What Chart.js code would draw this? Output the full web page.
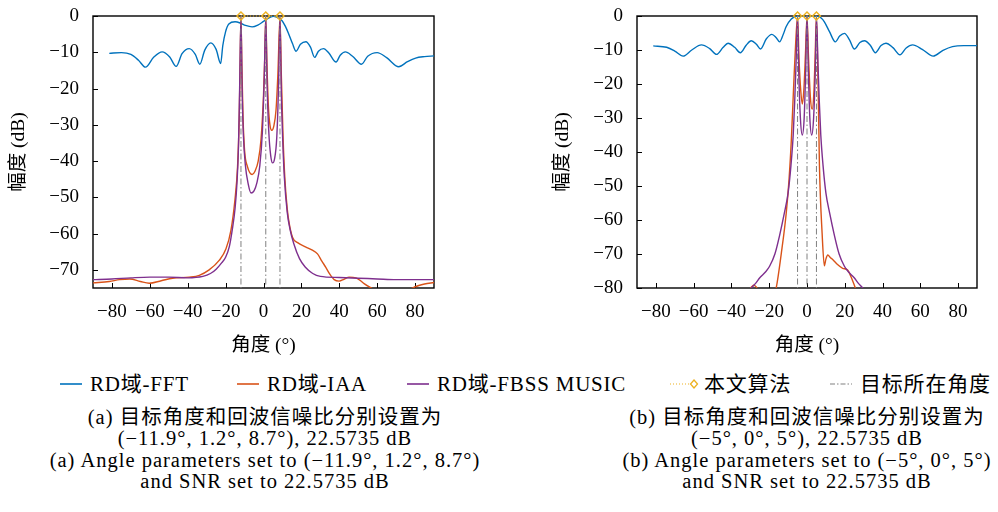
<!DOCTYPE html>
<html>
<head>
<meta charset="utf-8">
<script src="https://cdn.jsdelivr.net/npm/chart.js@4.4.1/dist/chart.umd.min.js"></script>
<style>
  body { margin: 0; background: #fff; }
  #wrap { position: relative; width: 998px; height: 512px; font-family: "Liberation Serif", "Noto Sans CJK SC", serif; color: #000; }
  canvas { position: absolute; top: 0; }
  .leg { position: absolute; top: 372px; height: 24px; font-size: 21px; line-height: 24px; letter-spacing: 0.8px; white-space: nowrap; }
  .leg svg { position: absolute; top: 1px; }
  .cap { position: absolute; top: 407px; width: 500px; text-align: center; font-size: 20.5px; line-height: 21.4px; letter-spacing: 1px; white-space: nowrap; }
</style>
</head>
<body>
<div id="wrap">
  <canvas id="chartA" width="470" height="362" style="left:0"></canvas>
  <canvas id="chartB" width="454" height="362" style="left:544px"></canvas>
  <div id="legend"></div>
  <div class="cap" style="left:15px">(a) 目标角度和回波信噪比分别设置为<br>(−11.9°, 1.2°, 8.7°), 22.5735 dB<br>(a) Angle parameters set to (−11.9°, 1.2°, 8.7°)<br>and SNR set to 22.5735 dB</div>
  <div class="cap" style="left:557px">(b) 目标角度和回波信噪比分别设置为<br>(−5°, 0°, 5°), 22.5735 dB<br>(b) Angle parameters set to (−5°, 0°, 5°)<br>and SNR set to 22.5735 dB</div>
</div>
<script>
// tick labels
const angleTicks = [-80, -60, -40, -20, 0, 20, 40, 60, 80];
const dbTicksA = [0, -10, -20, -30, -40, -50, -60, -70];
const dbTicksB = [0, -10, -20, -30, -40, -50, -60, -70, -80];

// target angles (deg)
const targetsA = [-11.9, 1.2, 8.7];
const targetsB = [-5, 0, 5];

// (a) spectra, [angle deg, dB]
const fftA = [[-81.4,-10.3],[-75,-10.1],[-70,-10.6],[-66,-12.2],[-62.3,-14.1],[-58,-11.4],[-53.5,-9.9],[-49.5,-11.3],[-46.1,-13.9],[-43,-10.4],[-39.2,-9.0],[-36,-10.6],[-33.6,-13.3],[-31,-9.4],[-27.8,-7.4],[-25,-9.2],[-22.6,-13.1],[-21.5,-8.2],[-20,-4.3],[-18.3,-2.2],[-15,-1.6],[-12,-2.0],[-9.5,-2.6],[-6,-3.0],[-3,-2.5],[0,-1.5],[3,-0.5],[5.3,-0.1],[8,-0.6],[9.8,-1.3],[11.5,-2.8],[13.2,-4.8],[15.3,-7.6],[17.2,-9.7],[19.5,-7.8],[22.4,-7.1],[24.8,-8.6],[27,-11.4],[29,-9.7],[31.7,-9.0],[34.5,-10.2],[38.3,-12.7],[40.5,-10.8],[43.2,-9.9],[47,-11.1],[51.7,-13.3],[55,-11.1],[60,-10.1],[65,-11.5],[71.4,-14.0],[76,-12.6],[80.3,-11.6],[85,-11.2],[90,-11.0]];
const iaaA = [[-90,-73.6],[-81.4,-73.2],[-76,-72.7],[-70.6,-72.5],[-65,-73.2],[-60.3,-73.7],[-54,-73.0],[-48,-72.3],[-39.2,-72.0],[-33.9,-71.5],[-28.7,-70.0],[-23.4,-67.4],[-19.8,-64.2],[-17.2,-59.1],[-15.1,-50.8],[-13.7,-41.6],[-12.8,-27.8],[-12.3,-12],[-11.9,-0.3],[-11.4,-14],[-10.8,-28],[-10,-37],[-8.5,-41.5],[-6,-43.7],[-4.5,-42.8],[-2.8,-40],[-1.3,-34],[0,-22],[0.7,-11],[1.2,-0.3],[1.8,-13],[2.6,-25],[3.4,-30],[4.4,-31.5],[5.5,-30.2],[6.6,-26],[7.6,-16],[8.7,-0.3],[9.4,-16],[10.3,-33],[11.3,-45],[12.5,-53],[13.5,-57],[15.3,-61],[18,-62.5],[22.4,-63.7],[25.5,-64.5],[28.5,-65.6],[30.8,-67.6],[32.9,-69.3],[35,-71.2],[37.3,-72.7],[39.9,-73.1],[42.5,-72.6],[45.2,-72.0],[48.8,-72.2],[51,-72.9],[53.1,-73.8],[57.5,-75.2],[62,-76.5],[70,-77],[75,-76.2],[78.6,-75],[82,-74.3],[85,-73.9],[90,-73.5]];
const musicA = [[-90,-72.7],[-80,-72.5],[-70,-72.2],[-60,-72.0],[-50,-72.0],[-40,-72.2],[-32,-71.8],[-28,-71.0],[-25,-69.8],[-22,-68.0],[-20,-66.5],[-18,-63.5],[-16.5,-59],[-15,-53],[-14,-46],[-13.2,-36],[-12.6,-20],[-11.9,-0.5],[-11.3,-20],[-10.6,-33],[-9.6,-41],[-8,-46.5],[-6.6,-48.8],[-5,-48.2],[-3.5,-46],[-2,-41.5],[-0.6,-32],[0.4,-17],[1.2,-0.5],[1.9,-19],[2.8,-32],[3.8,-38.5],[4.8,-40.5],[5.8,-39.5],[7,-33.5],[7.9,-20],[8.7,-0.5],[9.4,-21],[10.2,-35],[11,-44.4],[12.5,-54],[14,-58.8],[16,-62.8],[19,-66.9],[22,-69.2],[26,-71.0],[30,-71.8],[40,-72.1],[50,-72.3],[60,-72.5],[70,-72.7],[80,-72.7],[90,-72.7]];

// (b) spectra, [angle deg, dB]
const fftB = [[-81.4,-8.8],[-74.3,-9.2],[-70,-10.3],[-65.6,-11.8],[-61,-10.0],[-55.9,-8.5],[-51.5,-9.6],[-47.9,-11.3],[-44.5,-9.3],[-41.8,-8.0],[-38.3,-9.2],[-35.3,-10.8],[-32.2,-8.6],[-29.5,-7.3],[-26.8,-8.3],[-24.6,-9.7],[-21.5,-6.7],[-18.6,-5.4],[-16.4,-6.3],[-14.5,-7.6],[-12.5,-5.3],[-11,-3.1],[-8.3,-0.9],[-5.7,-0.1],[-3,0],[0,0],[3,0],[5.7,-0.1],[7.5,-0.6],[9.2,-1.7],[11.9,-4.6],[15,-7.6],[17.3,-5.9],[19.8,-5.1],[22.5,-7.0],[25.1,-9.7],[28,-7.8],[30.4,-7.3],[33.5,-8.6],[36.2,-10.8],[39.2,-8.7],[41.8,-8.0],[45.5,-9.3],[49.2,-11.4],[52.5,-9.4],[55.9,-8.5],[61,-9.8],[66.8,-11.8],[72,-10.1],[77,-9.0],[83,-8.7],[89.7,-8.7],[90,-8.7]];
const iaaB = [[-31,-81.5],[-30,-80.2],[-29,-79.5],[-28.2,-79.2],[-27,-79.6],[-26,-80.5],[-24,-82.5],[-20,-84],[-17.5,-82],[-16.3,-80],[-13.6,-69.8],[-11,-58],[-9.5,-48],[-8.3,-36.5],[-7,-19.8],[-6,-8],[-5,-0.3],[-4.2,-13],[-3.3,-22],[-2.5,-25.9],[-1.7,-22],[-0.8,-11],[0,-0.3],[0.8,-12],[1.8,-24],[2.7,-27.4],[3.6,-23],[4.3,-12],[5,-0.3],[5.8,-18],[6.6,-44.3],[8,-63.9],[9.2,-73.5],[10,-71.5],[11,-70.3],[12.3,-71],[13.6,-71.6],[16,-73],[18.9,-74.2],[21.5,-74.7],[23.3,-76.7],[25.6,-80],[27,-82]];
const musicB = [[-31,-81],[-29.5,-80],[-27,-78.5],[-25,-77],[-22,-75.3],[-19.8,-73.6],[-17,-70],[-14.5,-64.5],[-12,-58],[-10,-52],[-8.5,-44],[-7.3,-35],[-6.5,-25],[-5.8,-14],[-5,-0.3],[-4.3,-18],[-3.5,-30],[-2.5,-35],[-1.5,-30],[-0.7,-16],[0,-0.3],[0.7,-16],[1.5,-30],[2.5,-35],[3.5,-30],[4.3,-18],[5,-0.3],[5.8,-14],[6.5,-25],[7.3,-35],[8.5,-44],[10,-52],[12,-58],[14.5,-64.5],[17,-70],[19.8,-73.6],[22,-75.3],[25,-77],[27,-78.5],[29.5,-80],[31,-81]];

const seriesNames = ['RD域-FFT', 'RD域-IAA', 'RD域-FBSS MUSIC', '本文算法', '目标所在角度'];
const colors = ['#0072BD', '#D95319', '#7E2F8E', '#EDB120', '#808080'];
const FONT = '"Liberation Serif", "Noto Sans CJK SC", serif';
Chart.defaults.font.family = FONT;

function fmt(v) {
  return v < 0 ? '\u2212' + Math.abs(v) : String(v);
}

const pts = arr => arr.map(p => ({ x: p[0], y: p[1] }));

// box and inward tick marks (drawn under the curves, like the original)
const frame = {
  id: 'frame',
  beforeDatasetsDraw(chart) {
    const { ctx, chartArea: a, scales: { x, y } } = chart;
    ctx.save();
    ctx.strokeStyle = '#000';
    ctx.lineWidth = 1;
    ctx.beginPath();
    x.ticks.forEach(t => {
      const px = Math.round(x.getPixelForValue(t.value)) + 0.5;
      ctx.moveTo(px, a.bottom);
      ctx.lineTo(px, a.bottom - 5);
    });
    y.ticks.forEach(t => {
      const py = Math.round(y.getPixelForValue(t.value)) + 0.5;
      ctx.moveTo(a.left, py);
      ctx.lineTo(a.left + 5, py);
    });
    ctx.stroke();
    ctx.lineWidth = 1.4;
    ctx.strokeRect(a.left, a.top, a.right - a.left, a.bottom - a.top);
    ctx.restore();
  }
};

function makeChart(id, fft, iaa, music, targets, yMin, yTicks, padRight) {
  const curve = (data, i) => ({
    label: seriesNames[i],
    data: pts(data),
    borderColor: colors[i],
    borderWidth: 1.4,
    pointRadius: 0,
    cubicInterpolationMode: 'monotone',
    order: 10 - i
  });
  const datasets = [curve(fft, 0), curve(iaa, 1), curve(music, 2)];
  targets.forEach(t => datasets.push({
    label: seriesNames[4],
    data: [{ x: t, y: 0 }, { x: t, y: yMin }],
    borderColor: colors[4],
    borderWidth: 1,
    borderDash: [6, 2.5, 1.5, 2.5],
    pointRadius: 0,
    order: 2
  }));
  datasets.push({
    label: seriesNames[3],
    data: targets.map(t => ({ x: t, y: 0 })),
    borderColor: colors[3],
    borderWidth: 1,
    borderDash: [1, 2],
    pointStyle: 'rectRot',
    pointRadius: 4,
    pointBorderWidth: 1.4,
    pointBorderColor: colors[3],
    pointBackgroundColor: 'rgba(255,255,255,0)',
    clip: false,
    order: 0
  });

  return new Chart(document.getElementById(id), {
    type: 'line',
    data: { datasets },
    plugins: [frame],
    options: {
      responsive: false,
      animation: false,
      devicePixelRatio: 1,
      layout: { padding: { top: 16, right: padRight, left: 0, bottom: 0 } },
      plugins: { legend: { display: false }, tooltip: { enabled: false } },
      scales: {
        x: {
          type: 'linear',
          min: -90, max: 90,
          afterBuildTicks: s => { s.ticks = angleTicks.map(v => ({ value: v })); },
          afterFit: s => { s.height = 74; s.paddingLeft = 0; s.paddingRight = 0; },
          grid: { display: false, drawTicks: false },
          border: { display: false },
          ticks: { padding: 13, color: '#000', font: { family: FONT, size: 19 }, callback: fmt, maxRotation: 0 },
          title: { display: true, text: '角度 (°)', color: '#000', font: { family: FONT, size: 19.5 }, padding: { top: 0, bottom: 4 } }
        },
        y: {
          type: 'linear',
          min: yMin, max: 0,
          afterBuildTicks: s => { s.ticks = yTicks.map(v => ({ value: v })); },
          afterFit: s => { s.width = 93; s.paddingTop = 0; s.paddingBottom = 0; },
          grid: { display: false, drawTicks: false },
          border: { display: false },
          ticks: { padding: 14, color: '#000', font: { family: FONT, size: 19 }, callback: fmt },
          title: { display: true, text: '幅度 (dB)', color: '#000', font: { family: FONT, size: 19.5 }, padding: { top: 7, bottom: 0 } }
        }
      }
    }
  });
}

makeChart('chartA', fftA, iaaA, musicA, targetsA, -75, dbTicksA, 36);
makeChart('chartB', fftB, iaaB, musicB, targetsB, -80, dbTicksB, 21);

// shared legend
const legendX = [60, 237, 407, 670, 830];
const legend = document.getElementById('legend');
seriesNames.forEach((name, i) => {
  const item = document.createElement('div');
  item.className = 'leg';
  item.style.left = legendX[i] + 'px';
  let mark;
  if (i < 3) {
    mark = `<line x1="0" y1="11" x2="22" y2="11" stroke="${colors[i]}" stroke-width="1.6"/>`;
  } else if (i === 3) {
    mark = `<line x1="0" y1="11" x2="20" y2="11" stroke="${colors[i]}" stroke-width="1.2" stroke-dasharray="1,2"/>` +
           `<path d="M24 7 L27.5 11 L24 15 L20.5 11 Z" fill="none" stroke="${colors[i]}" stroke-width="1.3"/>`;
  } else {
    mark = `<line x1="0" y1="11" x2="22" y2="11" stroke="${colors[i]}" stroke-width="1.2" stroke-dasharray="5,2,1.5,2"/>`;
  }
  const w = i === 3 ? 30 : 24;
  item.innerHTML = `<svg width="${w}" height="22">${mark}</svg><span style="margin-left:${i === 3 ? 34 : 30}px">${name}</span>`;
  legend.appendChild(item);
});
</script>
</body>
</html>
